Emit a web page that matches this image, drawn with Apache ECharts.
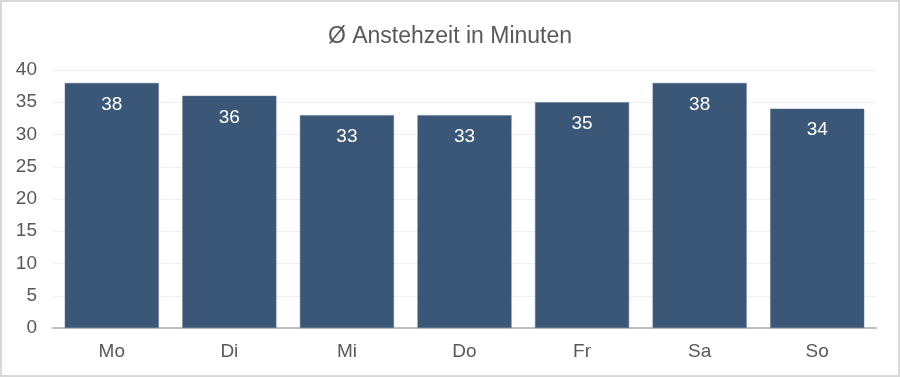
<!DOCTYPE html>
<html>
<head>
<meta charset="utf-8">
<script src="https://cdn.jsdelivr.net/npm/echarts@6/dist/echarts.min.js"></script>
<style>
  html, body { margin: 0; padding: 0; background: #fff; }
  #chart { width: 900px; height: 377px; box-sizing: border-box; border: 2px solid #d9d9d9; }
</style>
</head>
<body>
<div id="chart"></div>
<script>
const days = ["Mo", "Di", "Mi", "Do", "Fr", "Sa", "So"];
const waitMinutes = [38, 36, 33, 33, 35, 38, 34];
const chartTitle = "Ø Anstehzeit in Minuten";

const myChart = echarts.init(document.getElementById("chart"), null, { renderer: "canvas" });

myChart.setOption({
  animation: false,
  textStyle: { fontFamily: "Liberation Sans, Arial, sans-serif" },
  title: {
    text: chartTitle,
    left: "center",
    top: 18,
    textStyle: { fontSize: 23, fontWeight: "normal", color: "#595959" }
  },
  grid: { left: 51, right: 22, top: 68, bottom: 47 },
  xAxis: {
    type: "category",
    data: days,
    axisTick: { show: false },
    axisLine: { lineStyle: { color: "#bfbfbf", width: 2 } },
    axisLabel: { color: "#595959", fontSize: 19, margin: 14 }
  },
  yAxis: {
    type: "value",
    min: 0,
    max: 40,
    interval: 5,
    axisLabel: { color: "#595959", fontSize: 19, margin: 16 },
    splitLine: { lineStyle: { color: "#efefef", width: 1 } }
  },
  series: [{
    type: "bar",
    data: waitMinutes,
    barCategoryGap: "20%",
    itemStyle: { color: "#3a5777", borderColor: "#5a7390", borderWidth: 0.5 },
    label: {
      show: true,
      position: "insideTop",
      distance: 12,
      color: "#ffffff",
      fontSize: 19
    }
  }]
});
</script>
</body>
</html>
